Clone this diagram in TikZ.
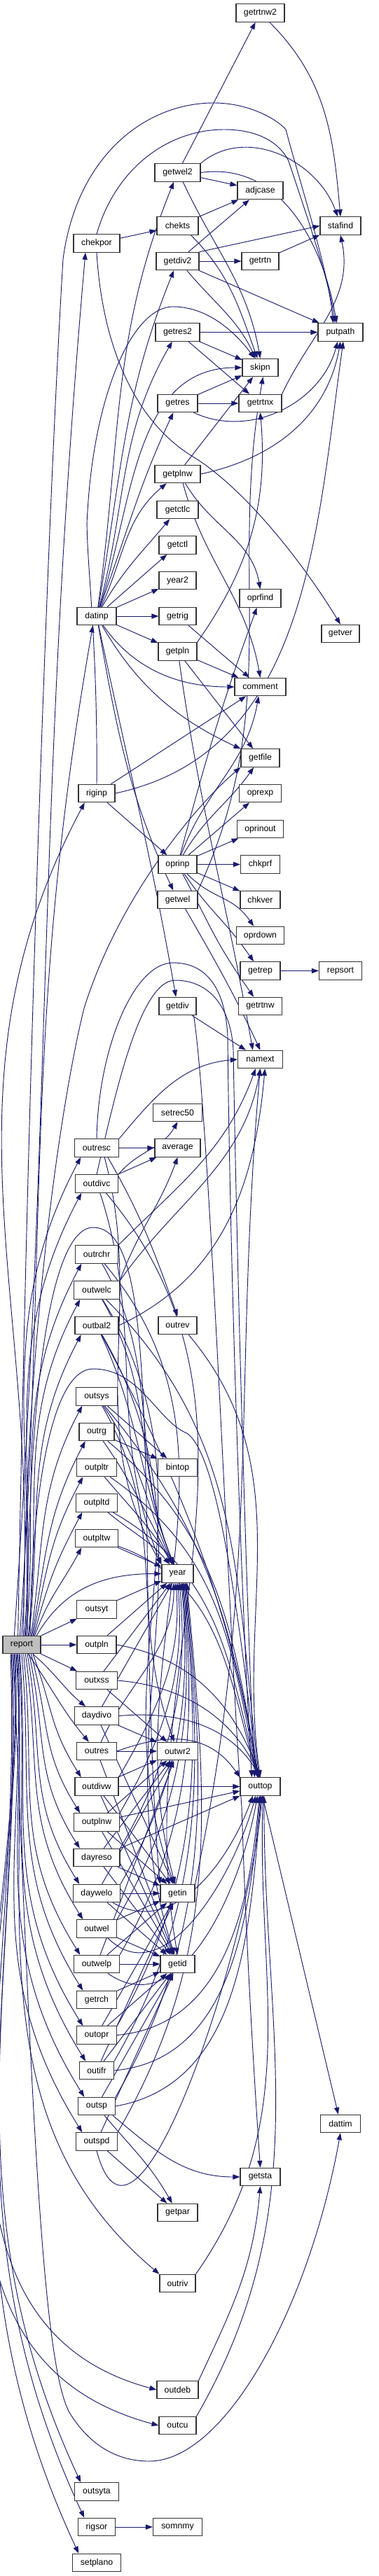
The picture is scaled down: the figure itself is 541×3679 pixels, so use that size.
\documentclass[tikz,border=0pt]{standalone}
\usepackage{fontspec}
\setmainfont{Liberation Sans}
\usetikzlibrary{arrows.meta}
\definecolor{mblue}{HTML}{191970}
\pgfdeclarelayer{bg}
\pgfdeclarelayer{edges}
\pgfsetlayers{bg,edges,main}
\tikzset{
  box/.style={draw=black!80, line width=0.8pt, fill=white, rectangle, inner sep=0pt, minimum height=19.1pt, font=\fontsize{9.2pt}{11pt}\selectfont},
  ed/.style={draw=mblue, line width=0.7pt, -{Triangle[length=7.5pt,width=5.4pt]}},
}
\newcommand{\mynode}[4]{\node[box,minimum width=#4*0.75pt] (#1) at (#2,-#3) {#1};}
% curve: start, out angle, out dist, end, in angle, in dist
\newcommand{\cv}[6]{\draw[ed] (#1) .. controls +(#2:#3) and +(#5:#6) .. (#4);}
% report -> node above (arrive at bottom-left)
\newcommand{\ru}[4]{\cv{[xshift=#2pt]report.north}{#3}{#4}{[xshift=7pt]#1.south west}{-118}{#4}}
% report -> node below (arrive at top-left)
\newcommand{\rd}[4]{\cv{[xshift=#2pt]report.south}{#3}{#4}{[xshift=7pt]#1.north west}{122}{#4}}
% node -> year from below
\newcommand{\yb}[3]{\cv{#1.north east}{60}{#3}{[xshift=#2pt]year.south}{-85}{#3}}
% node -> outtop from below
\newcommand{\tb}[4]{\cv{#1.east}{#3}{#4}{[xshift=#2pt]outtop.south}{-95}{#4}}
\begin{document}
\begin{tikzpicture}[x=0.75pt,y=0.75pt]
\begin{pgfonlayer}{bg}
\fill[white] (0,0) rectangle (541,-3679);
\end{pgfonlayer}
\path[use as bounding box] (0,0) rectangle (541,-3679);
% ---------------- nodes
\mynode{getrtnw2}{371.5}{18.5}{69}
\mynode{getwel2}{253.5}{246.5}{65}
\mynode{adjcase}{371.5}{272}{65}
\mynode{stafind}{486}{322.5}{58}
\mynode{chekts}{253.5}{322.5}{59}
\mynode{chekpor}{138}{347.5}{66}
\mynode{getdiv2}{253.5}{373}{61}
\mynode{getrtn}{371.5}{373}{53}
\mynode{getres2}{253.5}{474.5}{63}
\mynode{putpath}{486}{474.5}{64}
\mynode{skipn}{371.5}{525}{51}
\mynode{getres}{253.5}{576}{57}
\mynode{getrtnx}{371.5}{576}{61}
\mynode{getplnw}{253.5}{677}{65}
\mynode{getctlc}{253.5}{728}{59}
\mynode{getctl}{253.5}{778.5}{53}
\mynode{year2}{253.5}{829}{53}
\mynode{oprfind}{371.5}{854.5}{59}
\mynode{datinp}{138}{880}{56}
\mynode{getrig}{253.5}{880}{53}
\mynode{getver}{486}{905}{54}
\mynode{getpln}{253.5}{930.5}{55}
\mynode{comment}{371.5}{981}{73}
\mynode{getfile}{371.5}{1082.5}{55}
\mynode{riginp}{138}{1133}{52}
\mynode{oprexp}{371.5}{1133}{60}
\mynode{oprinout}{371.5}{1184}{66}
\mynode{oprinp}{253.5}{1234.5}{55}
\mynode{chkprf}{371.5}{1234.5}{56}
\mynode{getwel}{253.5}{1285}{57}
\mynode{chkver}{371.5}{1285}{57}
\mynode{oprdown}{371.5}{1336}{68}
\mynode{getrep}{371.5}{1386.5}{57}
\mynode{repsort}{486}{1386.5}{61}
\mynode{getdiv}{253.5}{1437}{53}
\mynode{getrtnw}{371.5}{1437}{62}
\mynode{namext}{371.5}{1513}{64}
\mynode{setrec50}{253.5}{1589}{70}
\mynode{outresc}{138}{1639.5}{63}
\mynode{average}{253.5}{1639.5}{65}
\mynode{outdivc}{138}{1690.5}{61}
\mynode{outrchr}{138}{1791.5}{61}
\mynode{outwelc}{138}{1842.5}{65}
\mynode{outbal2}{138}{1893}{62}
\mynode{outrev}{253.5}{1893}{55}
\mynode{outsys}{138}{1994.5}{59}
\mynode{outrg}{138}{2045}{50}
\mynode{outpltr}{138}{2096}{57}
\mynode{bintop}{253.5}{2096}{56}
\mynode{outpltd}{138}{2146.5}{59}
\mynode{outpltw}{138}{2197}{61}
\mynode{year}{253.5}{2247.5}{45}
\mynode{outsyt}{138}{2298.5}{57}
\node[box,fill=black!25,minimum width=54*0.75pt] (report) at (31,-2349) {report};
\mynode{outpln}{138}{2349}{56}
\mynode{outxss}{138}{2400}{59}
\mynode{daydivo}{138}{2450.5}{63}
\mynode{outres}{138}{2501}{57}
\mynode{outwr2}{253.5}{2501}{58}
\mynode{outdivw}{138}{2551.5}{62}
\mynode{outtop}{371.5}{2551.5}{57}
\mynode{outplnw}{138}{2602.5}{65}
\mynode{dayreso}{138}{2653}{66}
\mynode{daywelo}{138}{2704}{67}
\mynode{getin}{253.5}{2704}{49}
\mynode{outwel}{138}{2754.5}{57}
\mynode{outwelp}{138}{2805}{65}
\mynode{getid}{253.5}{2805}{49}
\mynode{getrch}{138}{2856}{57}
\mynode{outopr}{138}{2906.5}{57}
\mynode{outifr}{138}{2957}{49}
\mynode{outsp}{138}{3008}{53}
\mynode{dattim}{486}{3033}{57}
\mynode{outspd}{138}{3058.5}{59}
\mynode{getsta}{371.5}{3109}{57}
\mynode{getpar}{253.5}{3160}{57}
\mynode{outriv}{253.5}{3261}{51}
\mynode{outdeb}{253.5}{3413}{59}
\mynode{outcu}{253.5}{3464}{53}
\mynode{outsyta}{138}{3558.5}{63}
\mynode{rigsor}{138}{3609}{53}
\mynode{somnmy}{253.5}{3609}{70}
\mynode{setplano}{138}{3660}{69}
% ---------------- edges
\begin{pgfonlayer}{edges}
% top area
\draw[ed] (getwel2) -- (getrtnw2);
\cv{getrtnw2.-45}{-45}{115}{stafind.north}{95}{115}
\draw[ed] (getwel2) -- (adjcase);
\cv{getwel2.north east}{40}{85}{[xshift=-3pt]stafind.north}{110}{85}
\cv{getwel2.east}{8}{115}{[xshift=-4pt]putpath.north}{100}{115}
\cv{getwel2.-60}{-65}{108}{skipn.north}{100}{108}
\draw[ed] (chekts) -- (adjcase);
\cv{chekts.-35}{-45}{78}{[xshift=-3pt]skipn.north}{110}{78}
\draw[ed] (chekpor) -- (chekts);
\draw[ed] (chekpor.north) .. controls (165,-240) and (240,-185) .. (320,-185) .. controls (370,-185) and (400,-205) .. (412,-230) .. controls (435,-300) and (470,-400) .. ([xshift=-6pt]putpath.north);
\draw[ed] (chekpor.south) .. controls (145,-480) and (185,-600) .. (280,-655) .. controls (350,-700) and (430,-800) .. (getver.north);
\draw[ed] (getdiv2) -- (adjcase);
\draw[ed] (getdiv2.north east) -- (stafind.west);
\draw[ed] (getrtn) -- (stafind);
\draw[ed] (getdiv2) -- (getrtn);
\cv{getdiv2.-45}{-50}{62}{[xshift=-5pt]skipn.north}{115}{62}
\draw[ed] (getdiv2) -- (putpath);
\cv{getrtnx.north east}{65}{95}{stafind.south}{-78}{95}
% middle
\draw[ed] (getres2) -- (putpath);
\draw[ed] (getres2) -- (skipn);
\draw[ed] (getres2) -- (getrtnx);
\draw[ed] (getres) -- (skipn);
\draw[ed] (getres) -- (getrtnx);
\cv{getres.-30}{-25}{90}{[xshift=-3pt]putpath.south}{-105}{90}
\draw[ed] (getplnw) -- (skipn);
\cv{getplnw.east}{12}{108}{putpath.south}{-100}{108}
\cv{getplnw.-50}{-60}{72}{oprfind.north}{100}{72}
\cv{getplnw.-60}{-75}{116}{comment.north}{100}{116}
\cv{datinp.82}{82}{240}{getwel2.-112}{-112}{240}
\cv{datinp.80}{80}{195}{getdiv2.-112}{-112}{195}
\cv{datinp.75}{75}{155}{getres2.-120}{-120}{155}
\cv{datinp.70}{70}{118}{getres.-115}{-115}{118}
\cv{datinp.65}{65}{78}{getplnw.-140}{-140}{78}
\cv{datinp.60}{60}{62}{getctlc.-130}{-130}{62}
\draw[ed] (datinp) -- (getctl);
\draw[ed] (datinp) -- (year2);
\draw[ed] (datinp) -- (getrig);
\draw[ed] (datinp) -- (getpln);
\cv{datinp.-55}{-55}{78}{comment.180}{180}{78}
\cv{datinp.-60}{-60}{100}{getfile.155}{155}{100}
\cv{datinp.-80}{-80}{150}{getwel.115}{115}{150}
\cv{datinp.-78}{-78}{210}{getdiv.100}{100}{210}
\cv{datinp.72}{72}{155}{skipn.180}{180}{155}
\draw[ed] (getrig) -- (comment);
\draw[ed] (getpln) -- (comment);
\draw[ed] (getpln) -- (getfile);
\cv{getpln.north east}{55}{130}{getrtnx.south}{-85}{130}
\cv{getpln.-80}{-82}{220}{[xshift=-8pt]namext.north}{100}{220}
\draw[ed] (riginp) -- (comment);
\cv{riginp.east}{12}{280}{[xshift=3pt]putpath.south}{-98}{280}
\draw[ed] (riginp) -- (oprinp);
\draw[ed] (riginp.north) .. controls (140,-900) and (120,-780) .. (125,-730) .. controls (135,-560) and (190,-438) .. (247,-438) .. controls (300,-438) and (340,-480) .. ([xshift=-6pt]skipn.north);
\draw[ed] (oprinp) -- (oprexp);
\draw[ed] (oprinp) -- (oprinout);
\draw[ed] (oprinp) -- (chkprf);
\draw[ed] (oprinp) -- (chkver);
\cv{oprinp.-45}{-45}{55}{oprdown.125}{125}{55}
\cv{oprinp.-55}{-55}{75}{getrep.125}{125}{75}
\cv{oprinp.-62}{-62}{95}{getrtnw.125}{125}{95}
\cv{oprinp.75}{75}{145}{oprfind.-110}{-110}{145}
\cv{oprinp.70}{70}{100}{comment.-100}{-100}{100}
\cv{oprinp.60}{60}{62}{getfile.-125}{-125}{62}
\cv{getwel.north east}{65}{290}{[xshift=3pt]skipn.south}{-100}{290}
\cv{getwel.-50}{-60}{88}{namext.north}{115}{88}
\draw[ed] (getdiv) -- (namext);
\draw[ed] (getdiv.-30) .. controls (300,-1600) and (330,-2400) .. (345,-2580) .. controls (352,-2800) and (365,-3000) .. (getsta.north);
\draw[ed] (getrep) -- (repsort);
% report edges
\draw[ed] ([xshift=-4pt]report.north) .. controls (40,-1500) and (70,-700) .. (90,-370) .. controls (110,-220) and (210,-147) .. (305,-147) .. controls (355,-147) and (395,-170) .. (408,-185) .. controls (425,-250) and (470,-390) .. ([xshift=-8pt]putpath.north);
\cv{[xshift=-8pt]report.north}{86}{780}{[xshift=-12pt]chekpor.south}{-95}{780}
\cv{[xshift=-2pt]report.north}{86}{570}{[xshift=-4pt]datinp.south}{-100}{570}
\draw[ed] ([xshift=2pt]report.north) .. controls (36,-1900) and (90,-1560) .. (120,-1440) .. controls (170,-1280) and (280,-1150) .. (getfile.south west);
\ru{riginp}{0}{86}{470}
\ru{outresc}{3}{86}{270}
\ru{outdivc}{4}{86}{250}
\ru{outrchr}{5}{85}{215}
\draw[ed] ([xshift=6pt]report.north) .. controls (40,-2000) and (70,-1753) .. (133,-1753) .. controls (195,-1753) and (205,-1900) .. (210,-2200) .. controls (213,-2450) and (220,-2600) .. (getin.north west);
\ru{outwelc}{7}{84}{195}
\ru{outbal2}{8}{84}{175}
\draw[ed] ([xshift=9pt]report.north) .. controls (45,-2150) and (70,-1955) .. (133,-1955) .. controls (200,-1955) and (225,-2030) .. (267,-2047) .. controls (300,-2070) and (330,-2200) .. ([xshift=-3pt]outtop.north);
\ru{outsys}{10}{82}{135}
\ru{outrg}{11}{80}{118}
\ru{outpltr}{12}{78}{100}
\ru{outpltd}{13}{75}{80}
\ru{outpltw}{14}{70}{60}
\cv{[xshift=16pt]report.north}{60}{80}{year.west}{180}{80}
\draw[ed] (report) -- (outsyt);
\draw[ed] (report) -- (outpln);
\draw[ed] (report) -- (outxss);
\cv{report.-40}{-40}{40}{daydivo.140}{140}{40}
\cv{report.-55}{-55}{60}{outres.130}{130}{60}
\rd{outdivw}{12}{-70}{85}
\rd{outplnw}{10}{-75}{105}
\rd{dayreso}{8}{-78}{125}
\rd{daywelo}{6}{-80}{145}
\rd{outwel}{4}{-82}{165}
\rd{outwelp}{2}{-84}{185}
\rd{getrch}{0}{-85}{200}
\rd{outopr}{-2}{-86}{220}
\rd{outifr}{-3}{-86}{240}
\rd{outsp}{-4}{-87}{260}
\rd{outspd}{-5}{-87}{280}
\cv{[xshift=-6pt]report.south}{-86}{350}{outriv.north west}{140}{350}
\cv{[xshift=-7pt]report.south}{-87}{400}{outdeb.west}{165}{400}
\cv{[xshift=-8pt]report.south}{-87}{430}{outcu.west}{165}{430}
\draw[ed] ([xshift=-9pt]report.south) .. controls (45,-3000) and (60,-3380) .. (100,-3447) .. controls (130,-3495) and (170,-3515) .. (213,-3515) .. controls (320,-3515) and (440,-3300) .. (dattim.south);
\cv{[xshift=-10pt]report.south}{-88}{460}{[xshift=7pt]outsyta.north west}{115}{460}
\cv{[xshift=-11pt]report.south}{-88}{480}{[xshift=7pt]rigsor.north west}{115}{480}
\cv{[xshift=-12pt]report.south}{-88}{500}{[xshift=7pt]setplano.north west}{115}{500}
% lower, column 2 callers
\draw[ed] (outresc) -- (average);
\cv{outresc.north east}{50}{80}{namext.west}{185}{80}
\draw[ed] (outresc.north) .. controls (140,-1500) and (190,-1375) .. (247,-1375) .. controls (300,-1375) and (322,-1420) .. (325,-1480) .. controls (328,-1800) and (345,-2300) .. ([xshift=-9pt]outtop.north);
\cv{outresc.-40}{-60}{98}{outrev.north}{110}{98}
\cv{outresc.-50}{-75}{230}{year.north west}{120}{230}
\draw[ed] (outdivc) -- (average);
\cv{outdivc.north east}{50}{45}{setrec50.south}{-120}{45}
\draw[ed] (outdivc.north) .. controls (165,-1560) and (200,-1400) .. (250,-1400) .. controls (300,-1400) and (330,-1440) .. (333,-1500) .. controls (338,-1800) and (352,-2300) .. ([xshift=-6pt]outtop.north);
\cv{outdivc.-70}{-72}{210}{year.north west}{112}{210}
\cv{outdivc.-45}{-50}{420}{getid.north}{100}{420}
\cv{outrchr.north east}{45}{125}{[xshift=-5pt]namext.south}{-110}{125}
\cv{outrchr.-60}{-60}{170}{year.112}{112}{170}
\cv{outrchr.-50}{-50}{350}{getin.105}{105}{350}
\cv{outwelc.north east}{70}{76}{average.south}{-110}{76}
\cv{outwelc.north east}{55}{140}{namext.south}{-100}{140}
\cv{outwelc.-60}{-60}{155}{year.112}{112}{155}
\cv{outwelc.-58}{-58}{330}{getin.110}{110}{330}
\cv{outwelc.-45}{-45}{280}{outtop.97}{97}{280}
\cv{outbal2.east}{25}{165}{[xshift=5pt]namext.south}{-95}{165}
\cv{outbal2.-65}{-65}{130}{year.112}{112}{130}
\cv{outbal2.-62}{-62}{255}{outtop.100}{100}{255}
\cv{outbal2.-60}{-60}{350}{getid.108}{108}{350}
\cv{outrev.-40}{-50}{250}{outtop.north}{98}{250}
\draw[ed] (outsys) -- (bintop);
\cv{outsys.-55}{-55}{95}{year.115}{115}{95}
\cv{outsys.-50}{-50}{225}{outtop.100}{100}{225}
\cv{outsys.-60}{-60}{195}{outwr2.110}{110}{195}
\draw[ed] (outrg) -- (bintop);
\cv{outrg.-55}{-55}{78}{year.118}{118}{78}
\cv{outrg.-40}{-40}{210}{outtop.100}{100}{210}
\cv{outpltr.-50}{-50}{62}{year.120}{120}{62}
\cv{outpltr.-35}{-35}{195}{outtop.102}{102}{195}
\cv{outpltd.-40}{-40}{45}{year.130}{130}{45}
\cv{outpltd.-30}{-30}{175}{outtop.104}{104}{175}
\draw[ed] (outpltw) -- (year);
\cv{outpltw.-20}{-20}{155}{outtop.106}{106}{155}
\draw[ed] (outsyt) -- (year);
\draw[ed] (outpln) -- (year);
\cv{outpln.east}{-10}{110}{outtop.north}{110}{110}
\draw[ed] (outxss) -- (year);
\draw[ed] (outxss) -- (outwr2);
\cv{outxss.east}{-5}{95}{outtop.north}{115}{95}
\draw[ed] (daydivo) -- (year);
\draw[ed] (daydivo) -- (outwr2);
\cv{daydivo.east}{5}{85}{outtop.north}{120}{85}
\draw[ed] (daydivo) -- (getin);
\cv{outres.65}{65}{95}{[xshift=-4pt]year.south}{-90}{95}
\draw[ed] (outres) -- (outwr2);
\cv{outres.east}{20}{78}{outtop.north west}{125}{78}
\draw[ed] (outres) -- (getid);
\draw[ed] (outdivw) -- (outtop);
\draw[ed] (outdivw) -- (outwr2);
\draw[ed] (outdivw) -- (getin);
\draw[ed] (outdivw) -- (getid);
\yb{outdivw}{-2}{108}
\draw[ed] (outplnw) -- (outtop);
\draw[ed] (outplnw) -- (outwr2);
\draw[ed] (outplnw) -- (getin);
\draw[ed] (outplnw) -- (getid);
\yb{outplnw}{0}{128}
\draw[ed] (dayreso.north east) -- (outtop.south west);
\draw[ed] (dayreso) -- (getin);
\draw[ed] (dayreso) -- (getid);
\draw[ed] (dayreso) -- (outwr2);
\yb{dayreso}{2}{148}
\draw[ed] (daywelo) -- (getin);
\cv{daywelo.-30}{-30}{100}{[xshift=-8pt]outtop.south}{-110}{100}
\draw[ed] (daywelo) -- (getid);
\draw[ed] (daywelo) -- (outwr2);
\yb{daywelo}{4}{168}
\draw[ed] (outwel) -- (getin);
\draw[ed] (outwel) -- (getid);
\cv{outwel.-40}{-45}{115}{[xshift=-5pt]outtop.south}{-105}{115}
\yb{outwel}{5}{188}
\draw[ed] (outwelp) -- (getid);
\draw[ed] (outwelp) -- (getin);
\cv{outwelp.-40}{-35}{130}{[xshift=-3pt]outtop.south}{-100}{130}
\draw[ed] (outwelp) -- (outwr2);
\yb{outwelp}{6}{205}
\draw[ed] (getrch) -- (getid);
\draw[ed] (outopr) -- (getid);
\draw[ed] (outopr) -- (getin);
\tb{outopr}{-1}{5}{155}
\yb{outopr}{7}{245}
\tb{outifr}{0}{5}{170}
\draw[ed] (outifr) -- (getid);
\draw[ed] (outifr) -- (getin);
\yb{outifr}{8}{265}
\cv{outsp.-30}{-40}{80}{getsta.west}{180}{80}
\tb{outsp}{1}{10}{185}
\cv{outsp.-50}{-50}{66}{getpar.120}{120}{66}
\draw[ed] (outsp) -- (getid);
\yb{outsp}{9}{285}
\draw[ed] (outspd) -- (getpar);
\cv{outspd.south}{-75}{215}{[xshift=2pt]outtop.south}{-95}{215}
\draw[ed] (outspd) -- (getid);
\yb{outspd}{10}{305}
\cv{outriv.north east}{55}{270}{[xshift=3pt]outtop.south}{-92}{270}
\cv{outdeb.north east}{65}{115}{getsta.south}{-95}{115}
\cv{outcu.north east}{60}{345}{[xshift=4pt]outtop.south}{-90}{345}
\draw[ed] (outtop) -- (dattim);
\cv{getin.north east}{78}{450}{namext.south}{-95}{450}
\draw[ed] (rigsor) -- (somnmy);
\end{pgfonlayer}
\end{tikzpicture}
\end{document}
